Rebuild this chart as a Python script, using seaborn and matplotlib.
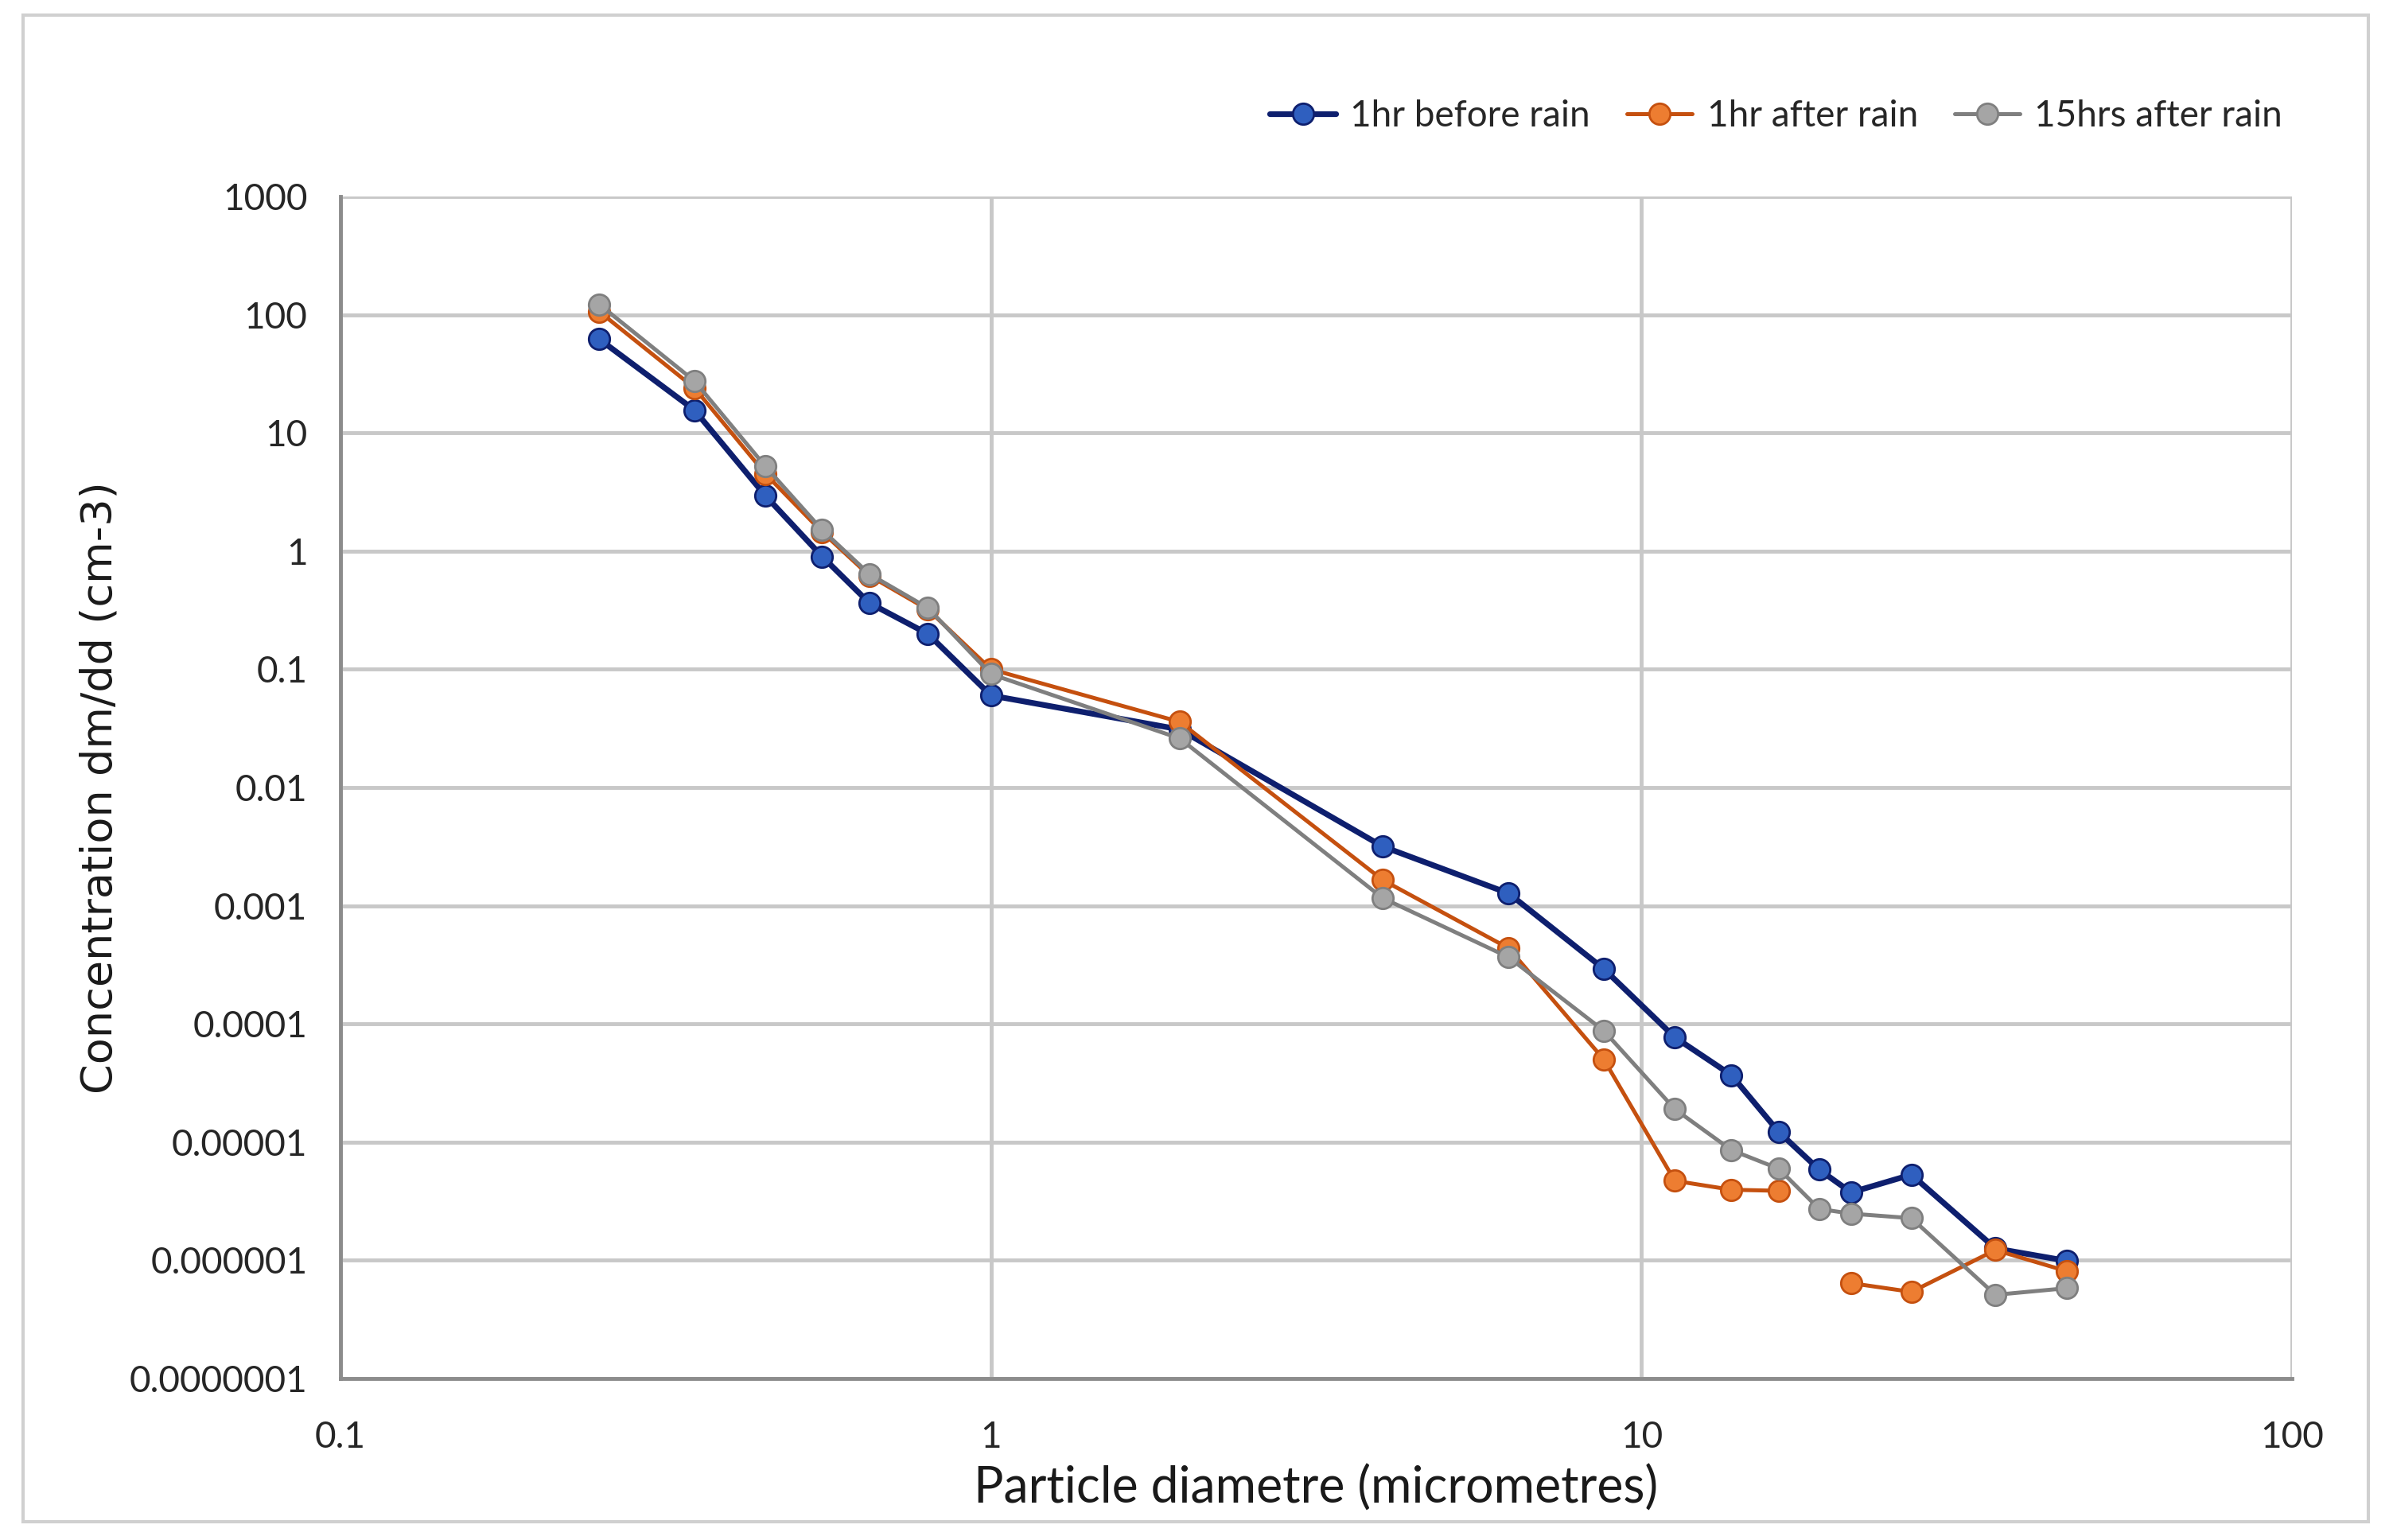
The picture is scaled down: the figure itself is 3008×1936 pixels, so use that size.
import numpy as np
import pandas as pd
import seaborn as sns
import matplotlib.pyplot as plt
from matplotlib.lines import Line2D
from matplotlib.patches import Rectangle

# particle diameter bins (micrometres)
diameter = [0.25, 0.35, 0.45, 0.55, 0.65, 0.8, 1.0, 1.95, 4.0, 6.25, 8.75,
            11.25, 13.75, 16.25, 18.75, 21.0, 26.0, 35.0, 45.0]

before_1hr = [62, 15.6, 2.94, 0.90, 0.364, 0.199, 0.060, 0.031, 0.00317, 0.00127, 2.92e-4,
              7.7e-5, 3.68e-5, 1.22e-5, 5.85e-6, 3.75e-6, 5.3e-6, 1.26e-6, 9.9e-7]
after_1hr = [106, 24, 4.5, 1.45, 0.62, 0.32, 0.100, 0.0359, 0.00165, 4.36e-4, 5.0e-5,
             4.7e-6, 3.95e-6, 3.87e-6, np.nan, 6.4e-7, 5.4e-7, 1.22e-6, 8.1e-7]
after_15hrs = [122, 27.5, 5.2, 1.51, 0.64, 0.33, 0.091, 0.026, 0.00116, 3.66e-4, 8.75e-5,
               1.9e-5, 8.55e-6, 5.95e-6, 2.72e-6, 2.48e-6, 2.27e-6, 5.1e-7, 5.8e-7]

series_names = ['1hr before rain', '1hr after rain', '15hrs after rain']
line_colors = ['#0E1F6E', '#C5500F', '#7F7F7F']
fill_colors = ['#2F5FBF', '#ED7D31', '#A5A5A5']

y_ticks = [1000, 100, 10, 1, 0.1, 0.01, 0.001, 0.0001, 0.00001, 0.000001, 0.0000001]
y_tick_labels = ['1000', '100', '10', '1', '0.1', '0.01', '0.001', '0.0001',
                 '0.00001', '0.000001', '0.0000001']
x_ticks = [0.1, 1, 10, 100]
x_tick_labels = ['0.1', '1', '10', '100']

# long format, split series at missing values so the line breaks there
frames = []
for name, vals in zip(series_names, [before_1hr, after_1hr, after_15hrs]):
    d = pd.DataFrame({'diameter': diameter, 'conc': vals, 'series': name})
    d['segment'] = d['conc'].isna().cumsum()
    frames.append(d.dropna())
df = pd.concat(frames, ignore_index=True)

sns.set_style('white')
plt.rcParams['font.family'] = ['Lato', 'DejaVu Sans']

fig = plt.figure(figsize=(30.08, 19.36), dpi=100)
ax = fig.add_axes([0.1423, 0.1049, 0.8155, 0.7675])

widths = {'1hr before rain': 5.2, '1hr after rain': 3.6, '15hrs after rain': 3.6}
for name, lc, fc in zip(series_names, line_colors, fill_colors):
    sns.lineplot(data=df[df['series'] == name], x='diameter', y='conc',
                 units='segment', estimator=None, sort=False,
                 color=lc, lw=widths[name], marker='o', markersize=19,
                 markerfacecolor=fc, markeredgecolor=lc, markeredgewidth=2,
                 ax=ax, legend=False)

ax.set_xscale('log')
ax.set_yscale('log')
ax.set_xlim(0.1, 100)
ax.set_ylim(1e-7, 1000)
ax.set_xticks(x_ticks)
ax.set_xticklabels(x_tick_labels)
ax.set_yticks(y_ticks)
ax.set_yticklabels(y_tick_labels)
ax.minorticks_off()
ax.tick_params(axis='both', length=0, labelsize=33, colors='#262626')
ax.tick_params(axis='x', pad=38)
ax.tick_params(axis='y', pad=30)

ax.grid(True, color='#C8C8C8', lw=3.5)
ax.set_axisbelow(True)
for side in ['top', 'right']:
    ax.spines[side].set_visible(False)
for side in ['left', 'bottom']:
    ax.spines[side].set_color('#8C8C8C')
    ax.spines[side].set_linewidth(3.5)

ax.set_xlabel('Particle diametre (micrometres)', fontsize=45, color='#1a1a1a', labelpad=10)
ax.set_ylabel('Concentration dm/dd (cm-3)', fontsize=39, color='#1a1a1a',
              family='DejaVu Sans', labelpad=8)

handles = [Line2D([0], [0], color=lc, lw=widths[n], marker='o', markersize=19,
                  markerfacecolor=fc, markeredgecolor=lc, markeredgewidth=2)
           for n, lc, fc in zip(series_names, line_colors, fill_colors)]
ax.legend(handles, series_names, loc='center right', bbox_to_anchor=(1.012, 1.068),
          ncol=3, frameon=False, fontsize=33, handlelength=1.8,
          handletextpad=0.4, columnspacing=1.0)

fig.patches.append(Rectangle((0.0096, 0.012), 0.980, 0.978, transform=fig.transFigure,
                             fill=False, edgecolor='#D0D0D0', lw=3))

fig.savefig('out.png', dpi=100)
